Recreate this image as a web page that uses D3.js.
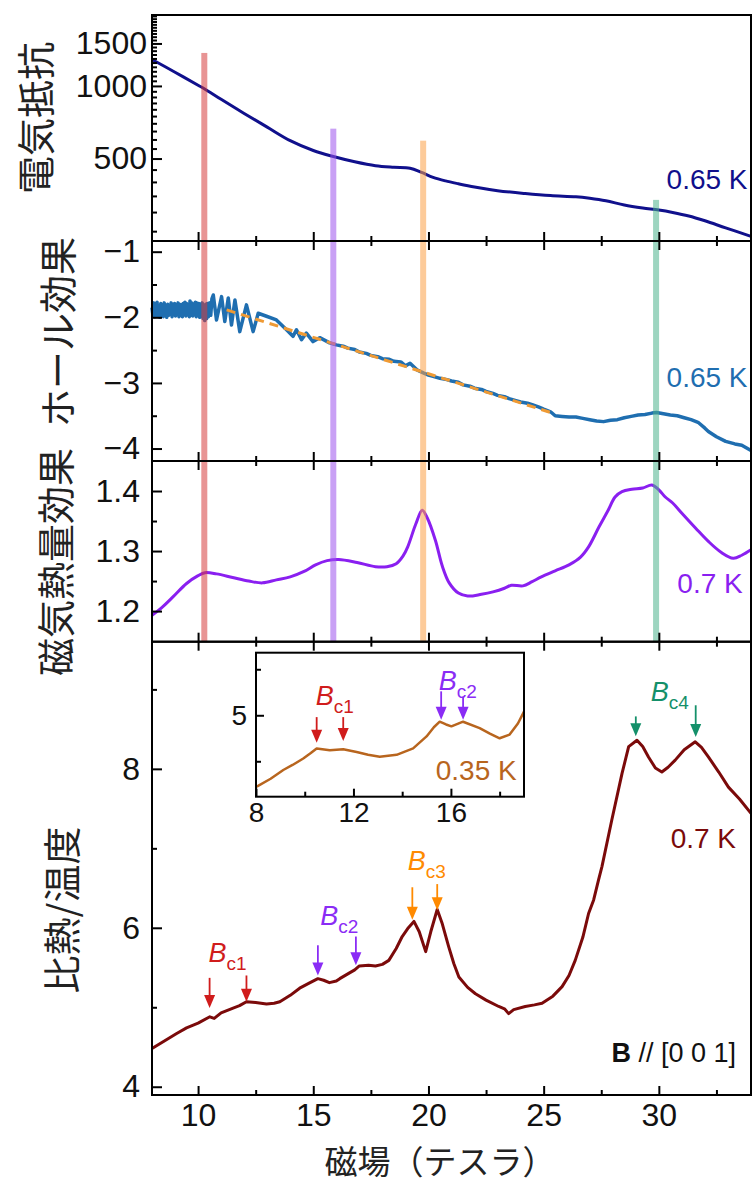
<!DOCTYPE html>
<html>
<head>
<meta charset="utf-8">
<script src="https://cdn.jsdelivr.net/npm/d3@7"></script>
<style>
  body { margin: 0; background: #fff; }
  svg { display: block; }
  text { font-family: "Liberation Sans", Arial, sans-serif; }
  .jp { font-family: "Noto Sans CJK JP", sans-serif; }
</style>
</head>
<body>
<svg id="chart" width="752" height="1184"></svg>
<script>
// ---- data (field in tesla) ----
const resistancePoints = [
  [8.0, 1287], [9.0, 1140], [10.0, 1006], [10.27, 974], [11.0, 880], [12.0, 769], [13.0, 675],
  [14.0, 593], [15.0, 540], [15.87, 510], [16.8, 485], [17.7, 467], [18.5, 460], [19.2, 456],
  [19.7, 438], [20.2, 418], [20.74, 404], [21.3, 393], [22.0, 381], [23.0, 368], [24.2, 358],
  [25.3, 351], [26.4, 347], [27.0, 342], [27.7, 334], [28.5, 321], [29.3, 312], [30.0, 306],
  [30.6, 299], [31.3, 289], [32.0, 276], [32.9, 258], [34.0, 238]
];

const hallPoints = [
  [8.0, -1.85], [8.04, -1.97], [8.08, -1.78], [8.12, -1.99], [8.15, -1.80], [8.19, -1.95], [8.22, -1.77],
  [8.26, -1.98], [8.3, -1.83], [8.34, -2.0], [8.38, -1.79], [8.42, -1.96], [8.45, -1.81], [8.49, -1.99],
  [8.53, -1.78], [8.57, -1.94], [8.6, -1.82], [8.64, -2.0], [8.68, -1.80], [8.72, -1.97], [8.75, -1.84],
  [8.79, -1.95], [8.83, -1.78], [8.87, -1.99], [8.9, -1.80], [8.94, -1.96], [8.98, -1.79], [9.02, -1.98],
  [9.05, -1.83], [9.09, -1.95], [9.13, -1.78], [9.17, -1.99], [9.2, -1.80], [9.24, -1.97], [9.28, -1.81],
  [9.32, -1.99], [9.35, -1.79], [9.39, -1.94], [9.43, -1.77], [9.47, -1.98], [9.5, -1.79], [9.54, -1.96],
  [9.58, -1.80], [9.62, -1.99], [9.65, -1.75], [9.69, -1.97], [9.73, -1.78], [9.77, -1.98], [9.8, -1.80],
  [9.84, -1.95], [9.88, -1.77], [9.92, -1.99], [9.95, -1.78], [9.99, -1.96], [10.03, -1.79], [10.07, -2.0],
  [10.1, -1.80], [10.14, -1.98], [10.18, -1.78], [10.22, -2.02], [10.25, -1.82], [10.29, -2.05],
  [10.33, -1.80], [10.37, -2.02], [10.4, -1.79], [10.45, -1.99], [10.5, -1.78], [10.55, -1.97],
  [10.6, -1.72], [10.66, -1.66], [10.8, -2.04], [11.02, -1.685], [11.16, -2.065], [11.31, -1.705],
  [11.45, -2.116], [11.6, -1.735], [11.81, -2.218], [12.1, -1.811], [12.39, -2.218], [12.61, -1.938],
  [12.94, -1.98], [13.4, -2.04], [13.84, -2.19], [14.12, -2.29], [14.27, -2.19], [14.49, -2.34],
  [14.7, -2.24], [14.99, -2.37], [15.28, -2.31], [15.71, -2.39], [16.0, -2.42], [16.3, -2.44], [16.5, -2.47],
  [16.8, -2.49], [17.0, -2.53], [17.3, -2.55], [17.5, -2.58], [17.8, -2.60], [18.0, -2.63], [18.3, -2.64],
  [18.5, -2.67], [18.8, -2.68], [19.0, -2.74], [19.2, -2.70], [19.5, -2.80], [19.8, -2.85], [20.0, -2.88],
  [20.2, -2.90], [20.5, -2.93], [20.8, -2.95], [21.0, -2.97], [21.3, -2.99], [21.5, -3.03], [21.8, -3.05],
  [22.0, -3.08], [22.3, -3.10], [22.5, -3.13], [22.8, -3.16], [23.0, -3.19], [23.3, -3.21], [23.5, -3.24],
  [23.8, -3.27], [24.0, -3.29], [24.3, -3.31], [24.5, -3.33], [24.8, -3.37], [25.0, -3.40], [25.3, -3.44],
  [25.5, -3.50], [25.8, -3.51], [26.1, -3.52], [26.4, -3.52], [26.7, -3.54], [27.0, -3.56], [27.3, -3.58],
  [27.6, -3.59], [27.9, -3.57], [28.2, -3.56], [28.5, -3.53], [28.8, -3.51], [29.1, -3.49], [29.4, -3.48],
  [29.7, -3.46], [29.9, -3.45], [30.2, -3.47], [30.5, -3.49], [30.8, -3.50], [31.1, -3.53], [31.4, -3.56],
  [31.7, -3.60], [32.0, -3.69], [32.15, -3.74], [32.5, -3.82], [32.9, -3.89], [33.3, -3.93], [33.6, -3.95],
  [34.0, -4.03]
];
const hallFit = [[11.24, -1.887], [25.3, -3.45]];

const mcePoints = [
  [8.0, 1.193], [8.4, 1.205], [8.92, 1.224], [9.5, 1.246], [10.0, 1.259], [10.3, 1.264], [10.8, 1.262],
  [11.5, 1.256], [12.2, 1.250], [12.8, 1.247], [13.4, 1.252], [14.0, 1.257], [14.6, 1.266], [15.1, 1.277],
  [15.6, 1.284], [16.1, 1.286], [16.9, 1.281], [17.7, 1.274], [18.2, 1.274], [18.6, 1.279], [18.9, 1.292],
  [19.1, 1.307], [19.45, 1.345], [19.73, 1.368], [19.95, 1.355], [20.3, 1.318], [20.6, 1.275], [20.9, 1.247],
  [21.3, 1.230], [21.7, 1.225], [22.3, 1.228], [22.8, 1.232], [23.3, 1.238], [23.6, 1.243], [24.1, 1.242],
  [24.5, 1.249], [24.9, 1.257], [25.5, 1.267], [26.1, 1.277], [26.6, 1.290], [26.95, 1.307], [27.4, 1.340],
  [27.8, 1.368], [28.1, 1.390], [28.4, 1.399], [28.83, 1.403], [29.3, 1.405], [29.7, 1.410], [30.0, 1.402],
  [30.28, 1.390], [30.6, 1.380], [31.0, 1.363], [31.6, 1.338], [32.15, 1.316], [32.7, 1.298], [33.23, 1.288],
  [33.6, 1.293], [34.0, 1.302]
];

const heatPoints = [
  [8.0, 4.48], [8.5, 4.57], [9.07, 4.67], [9.5, 4.74], [10.0, 4.80], [10.51, 4.88], [10.7, 4.86], [11.0, 4.93],
  [11.52, 4.99], [11.8, 5.02], [12.1, 5.07], [12.5, 5.06], [12.97, 5.04], [13.3, 5.05], [13.55, 5.07],
  [14.0, 5.15], [14.41, 5.24], [14.8, 5.30], [15.2, 5.36], [15.45, 5.34], [15.7, 5.31], [16.0, 5.33],
  [16.15, 5.36], [16.5, 5.42], [16.8, 5.47], [17.0, 5.52], [17.4, 5.53], [17.7, 5.52], [18.0, 5.54],
  [18.28, 5.59], [18.6, 5.74], [18.86, 5.89], [19.1, 5.99], [19.37, 6.08], [19.6, 5.95], [19.88, 5.70],
  [20.1, 5.95], [20.38, 6.23], [20.6, 6.05], [20.88, 5.76], [21.1, 5.55], [21.32, 5.38], [21.7, 5.25],
  [22.04, 5.17], [22.5, 5.09], [23.05, 5.01], [23.3, 4.98], [23.48, 4.92], [23.7, 4.97], [24.2, 5.01],
  [24.6, 5.03], [24.93, 5.05], [25.4, 5.14], [25.8, 5.26], [26.1, 5.40], [26.37, 5.59], [26.7, 5.88],
  [26.95, 6.18], [27.17, 6.35], [27.38, 6.60], [27.53, 6.77], [27.96, 7.36], [28.4, 7.94], [28.69, 8.28],
  [29.05, 8.36], [29.3, 8.28], [29.55, 8.15], [29.85, 8.01], [30.13, 7.96], [30.4, 8.02], [30.71, 8.11],
  [31.1, 8.24], [31.58, 8.34], [31.85, 8.27], [32.15, 8.15], [32.6, 7.96], [33.02, 7.77], [33.5, 7.62],
  [34.0, 7.44]
];

const insetPoints = [
  [8.03, 4.224], [8.6, 4.31], [9.12, 4.405], [9.5, 4.46], [9.94, 4.53], [10.25, 4.59], [10.49, 4.64],
  [11.03, 4.62], [11.58, 4.63], [12.13, 4.60], [12.6, 4.57], [13.08, 4.55], [13.77, 4.57], [14.45, 4.64],
  [15.0, 4.77], [15.3, 4.87], [15.54, 4.93], [15.8, 4.90], [16.02, 4.88], [16.5, 4.93], [17.18, 4.86],
  [17.6, 4.80], [18.0, 4.75], [18.41, 4.79], [18.75, 4.91], [19.0, 5.04]
];

// transition fields marked with bands; top end in resistance units
const bandFields = [10.27, 15.87, 19.77, 29.88];
const bandTops = [1370, 665, 593, 337];
const bandColors = ["#d53c3c", "#9c52ec", "#fba047", "#4cb28c"];

// arrows: [field, top, tip] in units of the panel they sit in
const arrowsBc1 = [[10.5, 5.37, 4.99], [12.1, 5.40, 5.07]];
const arrowsBc2 = [[15.2, 5.78, 5.40], [16.85, 5.89, 5.53]];
const arrowsBc3 = [[19.3, 6.51, 6.10], [20.38, 6.55, 6.22]];
const arrowsBc4 = [[29.0, 8.66, 8.41], [31.6, 8.80, 8.40]];
const insetArrowsBc1 = [[10.49, 4.98, 4.70], [11.58, 4.98, 4.72]];
const insetArrowsBc2 = [[15.6, 5.26, 4.95], [16.5, 5.20, 4.95]];

const xMajor = [10, 15, 20, 25, 30];
const xMinor = [12.5, 17.5, 22.5, 27.5, 32.5];
const insetXMajor = [8, 12, 16];
const insetXMinor = [10, 14, 18];

const colors = {
  res: "#10108c", hall: "#1f6eb0", fit: "#ef9a34", mce: "#8a1ff0", heat: "#7b0a0a", inset: "#b8651e",
  bc1: "#d01c1c", bc2: "#8a2cf5", bc3: "#ff8a00", bc4: "#14906a"
};

// ---- layout ----
const svg = d3.select("#chart");
const left = 152, right = 751;
const panels = [
  { top: 15, bottom: 241 },
  { top: 241, bottom: 461 },
  { top: 461, bottom: 641.7 },
  { top: 641.7, bottom: 1095 }
];

const x = d3.scaleLinear().domain([8, 34]).range([left, right]);

const yRes = d3.scaleLog().domain([227.6, 1968]).range([panels[0].bottom, panels[0].top]);
const yHall = d3.scaleLinear().domain([-4.19, -0.837]).range([panels[1].bottom, panels[1].top]);
const yMce = d3.scaleLinear().domain([1.149, 1.45]).range([panels[2].bottom, panels[2].top]);
const yHeat = d3.scaleLinear().domain([3.896, 9.6]).range([panels[3].bottom, panels[3].top]);

const xIn = d3.scaleLinear().domain([8, 19]).range([256, 524]);
const yIn = d3.scaleLinear().domain([4.115, 5.68]).range([796.7, 652.7]);

function styleAxis(g, fontSize) {
  g.select(".domain").remove();
  g.selectAll(".tick line").attr("stroke", "#000").attr("stroke-width", 2);
  g.selectAll(".tick text").attr("fill", "#111").style("font-size", fontSize + "px")
    .style("font-family", "'Liberation Sans', Arial, sans-serif");
}

function leftAxis(y, major, minor, fmt, pad) {
  svg.append("g").attr("transform", `translate(${left},0)`)
    .call(d3.axisLeft(y).tickValues(minor).tickSize(-5).tickFormat(""))
    .call(g => styleAxis(g, 32));
  svg.append("g").attr("transform", `translate(${left},0)`)
    .call(d3.axisLeft(y).tickValues(major).tickSize(-10).tickPadding(pad).tickFormat(fmt))
    .call(g => styleAxis(g, 32));
}

function xAxes(p, withTop, withLabels) {
  svg.append("g").attr("transform", `translate(0,${p.bottom})`)
    .call(d3.axisBottom(x).tickValues(xMinor).tickSize(-5).tickFormat(""))
    .call(g => styleAxis(g, 32));
  svg.append("g").attr("transform", `translate(0,${p.bottom})`)
    .call(d3.axisBottom(x).tickValues(xMajor).tickSize(-9).tickPadding(8)
      .tickFormat(withLabels ? d3.format("d") : ""))
    .call(g => styleAxis(g, 32));
  if (withTop) {
    svg.append("g").attr("transform", `translate(0,${p.top})`)
      .call(d3.axisTop(x).tickValues(xMinor).tickSize(-5).tickFormat(""))
      .call(g => styleAxis(g, 32));
    svg.append("g").attr("transform", `translate(0,${p.top})`)
      .call(d3.axisTop(x).tickValues(xMajor).tickSize(-9).tickFormat(""))
      .call(g => styleAxis(g, 32));
  }
}

// ---- curves ----
const smooth = (y) => d3.line().x(d => x(d[0])).y(d => y(d[1])).curve(d3.curveCatmullRom);
const raw = (y) => d3.line().x(d => x(d[0])).y(d => y(d[1]));

svg.append("path").datum(resistancePoints).attr("fill", "none").attr("stroke", colors.res)
  .attr("stroke-width", 3).attr("d", smooth(yRes));

svg.append("path").datum(hallPoints).attr("fill", "none").attr("stroke", colors.hall)
  .attr("stroke-width", 3.5).attr("stroke-linejoin", "round").attr("d", raw(yHall));
svg.append("path").datum(hallFit).attr("fill", "none").attr("stroke", colors.fit)
  .attr("stroke-width", 3).attr("stroke-dasharray", "9,6").attr("d", raw(yHall));

svg.append("path").datum(mcePoints).attr("fill", "none").attr("stroke", colors.mce)
  .attr("stroke-width", 3).attr("d", smooth(yMce));

svg.append("path").datum(heatPoints).attr("fill", "none").attr("stroke", colors.heat)
  .attr("stroke-width", 3).attr("stroke-linejoin", "round").attr("d", raw(yHeat));

// ---- vertical bands through the upper three panels ----
svg.append("g").selectAll("rect").data(bandFields).join("rect")
  .attr("x", d => x(d) - 3)
  .attr("width", 6)
  .attr("y", (d, i) => yRes(bandTops[i]))
  .attr("height", (d, i) => panels[2].bottom - yRes(bandTops[i]))
  .attr("fill", (d, i) => bandColors[i])
  .attr("opacity", 0.55);

// ---- axes and frames ----
leftAxis(yRes, [500, 1000, 1500], d3.range(250, 2000, 50).filter(v => v % 500 !== 0), d3.format("d"), 5);
leftAxis(yHall, [-1, -2, -3, -4], [-1.5, -2.5, -3.5], d3.format("d"), 12);
leftAxis(yMce, [1.2, 1.3, 1.4], [1.25, 1.35], d3.format(".1f"), 12);
leftAxis(yHeat, [4, 6, 8], [5, 7, 9], d3.format("d"), 12);

xAxes(panels[0], false, false);
xAxes(panels[1], true, false);
xAxes(panels[2], true, false);
xAxes(panels[3], true, true);

panels.forEach(p => {
  svg.append("rect").attr("x", left).attr("y", p.top).attr("width", right - left)
    .attr("height", p.bottom - p.top).attr("fill", "none").attr("stroke", "#000").attr("stroke-width", 2);
});

// ---- arrows and B_c labels ----
function arrows(list, xs, ys, color) {
  const g = svg.append("g");
  list.forEach(a => {
    const ax = xs(a[0]), top = ys(a[1]), tip = ys(a[2]);
    g.append("line").attr("x1", ax).attr("x2", ax).attr("y1", top).attr("y2", tip - 10)
      .attr("stroke", color).attr("stroke-width", 1.8);
    g.append("path").attr("d", `M${ax - 5.5},${tip - 13}L${ax + 5.5},${tip - 13}L${ax},${tip}Z`)
      .attr("fill", color);
  });
}

function bcLabel(xs, ys, bx, by, sub, color) {
  const t = svg.append("text").attr("x", xs(bx)).attr("y", ys(by)).attr("fill", color);
  t.append("tspan").text("B").style("font-style", "italic").style("font-size", "27px");
  t.append("tspan").text(sub).attr("dy", 8).style("font-size", "19px");
}

arrows(arrowsBc1, x, yHeat, colors.bc1);
arrows(arrowsBc2, x, yHeat, colors.bc2);
arrows(arrowsBc3, x, yHeat, colors.bc3);
arrows(arrowsBc4, x, yHeat, colors.bc4);
bcLabel(x, yHeat, 10.45, 5.57, "c1", colors.bc1);
bcLabel(x, yHeat, 15.3, 6.03, "c2", colors.bc2);
bcLabel(x, yHeat, 19.1, 6.73, "c3", colors.bc3);
bcLabel(x, yHeat, 29.65, 8.86, "c4", colors.bc4);

// ---- temperature labels ----
function tempLabel(xv, yv, y, txt, color, size) {
  svg.append("text").attr("x", x(xv)).attr("y", y(yv)).attr("text-anchor", "end")
    .attr("fill", color).style("font-size", size + "px").text(txt);
}
tempLabel(33.85, 374, yRes, "0.65 K", colors.res, 28);
tempLabel(33.85, -3.055, yHall, "0.65 K", colors.hall, 28);
tempLabel(33.64, 1.2295, yMce, "0.7 K", colors.mce, 28);
tempLabel(33.35, 7.0, yHeat, "0.7 K", colors.heat, 28);

const orient = svg.append("text").attr("x", x(33.35)).attr("y", yHeat(4.31)).attr("text-anchor", "end")
  .attr("fill", "#111").style("font-size", "27px");
orient.append("tspan").text("B").style("font-weight", "bold");
orient.append("tspan").text(" // [0 0 1]");

// ---- inset ----
svg.append("rect").attr("x", 256).attr("y", 652.7).attr("width", 268).attr("height", 144)
  .attr("fill", "#fff");
svg.append("path").datum(insetPoints).attr("fill", "none").attr("stroke", colors.inset)
  .attr("stroke-width", 2.5).attr("stroke-linejoin", "round")
  .attr("d", d3.line().x(d => xIn(d[0])).y(d => yIn(d[1])));

svg.append("g").attr("transform", "translate(0,796.7)")
  .call(d3.axisBottom(xIn).tickValues(insetXMinor).tickSize(-5).tickFormat(""))
  .call(g => styleAxis(g, 28));
svg.append("g").attr("transform", "translate(0,796.7)")
  .call(d3.axisBottom(xIn).tickValues(insetXMajor).tickSize(-8).tickPadding(5).tickFormat(d3.format("d")))
  .call(g => styleAxis(g, 28));
svg.append("g").attr("transform", "translate(256,0)")
  .call(d3.axisLeft(yIn).tickValues([4.5, 5.5]).tickSize(-5).tickFormat(""))
  .call(g => styleAxis(g, 28));
svg.append("g").attr("transform", "translate(256,0)")
  .call(d3.axisLeft(yIn).tickValues([5]).tickSize(-8).tickPadding(9).tickFormat(d3.format("d")))
  .call(g => styleAxis(g, 28));
svg.append("rect").attr("x", 256).attr("y", 652.7).attr("width", 268).attr("height", 144)
  .attr("fill", "none").attr("stroke", "#000").attr("stroke-width", 2);

arrows(insetArrowsBc1, xIn, yIn, colors.bc1);
arrows(insetArrowsBc2, xIn, yIn, colors.bc2);
bcLabel(xIn, yIn, 10.45, 5.11, "c1", colors.bc1);
bcLabel(xIn, yIn, 15.5, 5.27, "c2", colors.bc2);
svg.append("text").attr("x", xIn(18.7)).attr("y", yIn(4.297)).attr("text-anchor", "end")
  .attr("fill", colors.inset).style("font-size", "28px").text("0.35 K");

// ---- axis titles ----
const yTitles = [
  { text: "電気抵抗", cx: 33, cy: 118 },
  { text: "ホール効果", cx: 55, cy: 332 },
  { text: "磁気熱量効果", cx: 53, cy: 562 },
  { text: "比熱/温度", cx: 59, cy: 910 }
];
yTitles.forEach(t => {
  svg.append("text").attr("class", "jp")
    .attr("transform", `translate(${t.cx},${t.cy}) rotate(-90)`)
    .attr("text-anchor", "middle").attr("dominant-baseline", "central")
    .attr("fill", "#222").style("font-size", "38px").text(t.text);
});

svg.append("text").attr("class", "jp").attr("x", 440).attr("y", 1174)
  .attr("text-anchor", "middle").attr("fill", "#222").style("font-size", "33px")
  .text("磁場（テスラ）");
</script>
</body>
</html>
